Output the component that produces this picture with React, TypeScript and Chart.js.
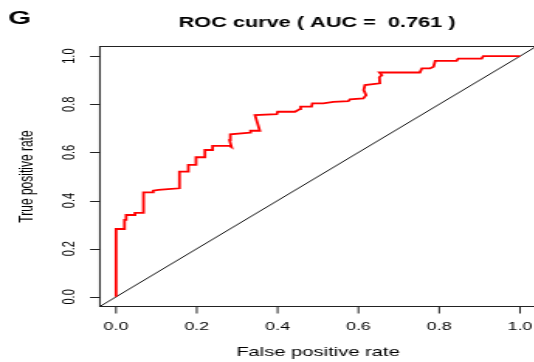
import React, { useEffect, useRef } from "react";
import { Chart, registerables } from "chart.js";

Chart.register(...registerables);

// ROC curve points (false positive rate, true positive rate)
const fpr = [
  0, 0, 0.021, 0.021, 0.025, 0.025, 0.047, 0.047, 0.068, 0.068, 0.09, 0.092,
  0.105, 0.129, 0.157, 0.157, 0.179, 0.179, 0.198, 0.198, 0.22, 0.22, 0.239,
  0.239, 0.281, 0.286, 0.281, 0.283, 0.332, 0.333, 0.356, 0.344, 0.398, 0.4,
  0.443, 0.455, 0.457, 0.484, 0.486, 0.513, 0.538, 0.575, 0.579, 0.612, 0.619,
  0.613, 0.616, 0.653, 0.652, 0.658, 0.652, 0.752, 0.757, 0.777, 0.786, 0.79,
  0.843, 0.847, 0.905, 0.909, 1.0,
];
const tpr = [
  0, 0.282, 0.282, 0.32, 0.32, 0.34, 0.34, 0.349, 0.349, 0.434, 0.434, 0.441,
  0.444, 0.448, 0.451, 0.52, 0.52, 0.548, 0.548, 0.58, 0.58, 0.61, 0.61,
  0.627, 0.627, 0.622, 0.651, 0.675, 0.682, 0.69, 0.69, 0.755, 0.759, 0.769,
  0.769, 0.78, 0.79, 0.79, 0.804, 0.804, 0.81, 0.813, 0.82, 0.824, 0.838,
  0.859, 0.88, 0.887, 0.912, 0.921, 0.932, 0.932, 0.949, 0.949, 0.956, 0.98,
  0.98, 0.99, 0.99, 1.0, 1.0,
];
const diagX = [-0.04, 1.04];
const diagY = [-0.04, 1.04];
const tickValues = [0, 0.2, 0.4, 0.6, 0.8, 1.0];
const tickLabels = ["0.0", "0.2", "0.4", "0.6", "0.8", "1.0"];
const axisMin = -0.04;
const axisMax = 1.04;
const titleText = "ROC curve ( AUC =  0.761 )";
const panelLabel = "G";
const xTitle = "False positive rate";
const yTitle = "True positive rate";

// horizontal stretch of the original figure
const S = 1.55;
const CW = 350;
const CH = 362;
const FAM = '"Liberation Sans", Arial, Helvetica, sans-serif';

const decor = {
  id: "decor",
  afterDraw(chart: any) {
    const { ctx, chartArea: a, scales } = chart;
    const xs = scales.x;
    const ys = scales.y;
    ctx.save();
    ctx.strokeStyle = "#222";
    ctx.lineWidth = 1;
    ctx.strokeRect(a.left, a.top, a.right - a.left, a.bottom - a.top);
    ctx.beginPath();
    tickValues.forEach((v) => {
      const px = xs.getPixelForValue(v);
      ctx.moveTo(px, a.bottom);
      ctx.lineTo(px, a.bottom + 7);
    });
    tickValues.forEach((v) => {
      const py = Math.round(ys.getPixelForValue(v)) + 0.5;
      ctx.moveTo(a.left, py);
      ctx.lineTo(90 / S, py);
    });
    ctx.stroke();

    ctx.fillStyle = "#000";
    ctx.textAlign = "center";
    ctx.textBaseline = "alphabetic";
    ctx.font = `11.5px ${FAM}`;
    tickLabels.forEach((t, i) => {
      ctx.fillText(t, xs.getPixelForValue(tickValues[i]), 330);
    });
    ctx.font = `11px ${FAM}`;
    tickLabels.forEach((t, i) => {
      ctx.save();
      ctx.translate(75 / S, ys.getPixelForValue(tickValues[i]));
      ctx.rotate(-Math.PI / 2);
      ctx.fillText(t, 0, 0);
      ctx.restore();
    });

    const cx = (a.left + a.right) / 2;
    const cy = (a.top + a.bottom) / 2;
    ctx.font = `13px ${FAM}`;
    ctx.fillText(xTitle, cx, 355.5);
    ctx.font = `12px ${FAM}`;
    ctx.save();
    ctx.translate(33 / S, cy);
    ctx.rotate(-Math.PI / 2);
    ctx.fillText(yTitle, 0, 0);
    ctx.restore();

    ctx.font = `bold 14px ${FAM}`;
    ctx.fillText(titleText, cx - 1 / S, 26.5);
    ctx.textAlign = "left";
    ctx.font = `bold 19px ${FAM}`;
    ctx.fillText(panelLabel, 8 / S, 23.5);
    ctx.restore();
  },
};

export default function App() {
  const ref = useRef<HTMLCanvasElement | null>(null);
  useEffect(() => {
    if (!ref.current) return;
    const left = (116 - 0.04 * 404) / S;
    const right = (116 + 1.04 * 404) / S;
    const chart = new Chart(ref.current, {
      type: "line",
      data: {
        datasets: [
          {
            label: "ROC",
            data: fpr.map((x, i) => ({ x, y: tpr[i] })),
            borderColor: "#ff0000",
            borderWidth: 1.8,
            pointRadius: 0,
            tension: 0,
            fill: false,
          },
          {
            label: "chance",
            data: diagX.map((x, i) => ({ x, y: diagY[i] })),
            borderColor: "#111",
            borderWidth: 1,
            pointRadius: 0,
            tension: 0,
            fill: false,
          },
        ],
      },
      options: {
        animation: false,
        responsive: false,
        devicePixelRatio: 1,
        layout: {
          padding: {
            left,
            right: CW - right,
            top: 46.5,
            bottom: CH - 306.5,
          },
        },
        plugins: {
          legend: { display: false },
          tooltip: { enabled: false },
          title: { display: false },
        },
        scales: {
          x: { type: "linear", min: axisMin, max: axisMax, display: false },
          y: { type: "linear", min: axisMin, max: axisMax, display: false },
        },
      },
      plugins: [decor],
    });
    return () => chart.destroy();
  }, []);

  return (
    <div
      style={{
        position: "absolute",
        left: 0,
        top: 0,
        width: 534,
        height: 362,
        overflow: "hidden",
        background: "#fff",
      }}
    >
      <div
        style={{
          width: CW,
          height: CH,
          transform: `scaleX(${S})`,
          transformOrigin: "0 0",
        }}
      >
        <canvas
          ref={ref}
          width={CW}
          height={CH}
          style={{ display: "block", width: CW, height: CH }}
        />
      </div>
    </div>
  );
}
